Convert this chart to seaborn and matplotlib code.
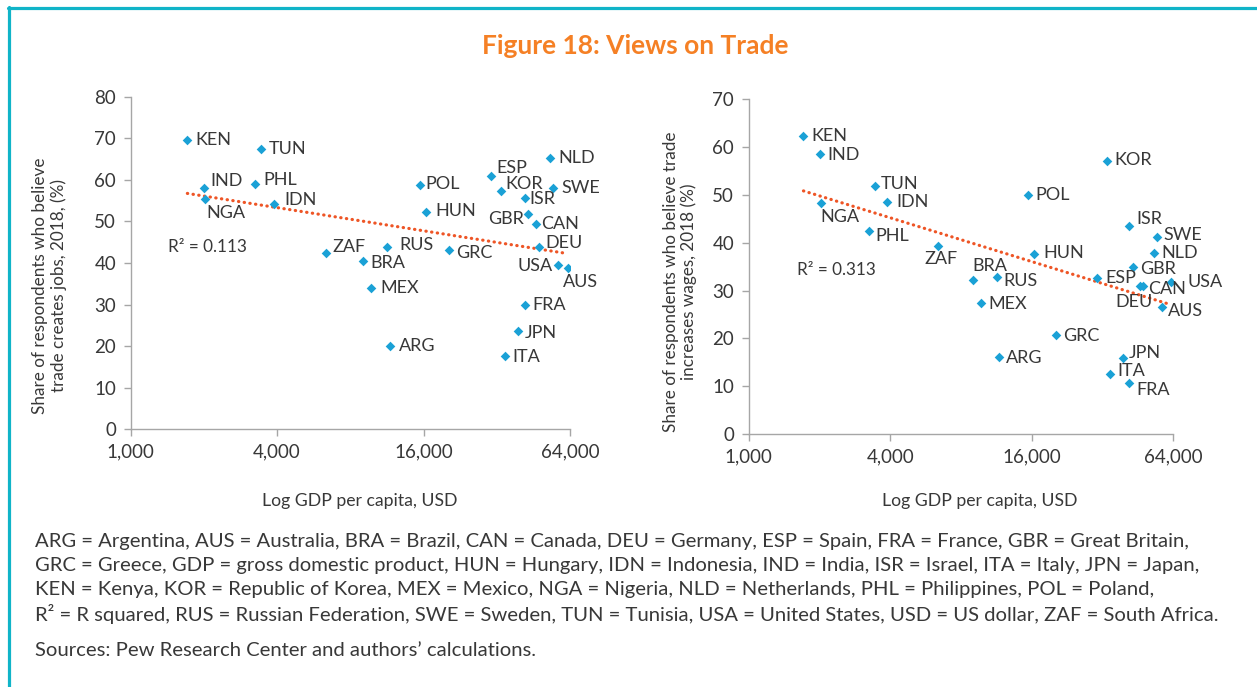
import numpy as np
import pandas as pd
import matplotlib
matplotlib.use("Agg")
import matplotlib.pyplot as plt
import seaborn as sns
from matplotlib.lines import Line2D
from matplotlib.ticker import FixedLocator, FixedFormatter, NullLocator

# ---------------- data ----------------
countries = ["KEN", "IND", "NGA", "TUN", "PHL", "IDN", "ZAF", "BRA", "MEX", "RUS",
             "ARG", "POL", "HUN", "GRC", "ESP", "KOR", "ITA", "JPN", "ISR", "FRA",
             "GBR", "CAN", "DEU", "NLD", "SWE", "AUS", "USA"]
gdp_per_capita = [1710, 2010, 2030, 3430, 3250, 3890, 6360, 8990, 9720, 11350,
                  11630, 15420, 16420, 20320, 30360, 33320, 34570, 39060, 41640, 41640,
                  42930, 46200, 47600, 52900, 54360, 57200, 62700]
share_jobs = [69.6, 58.0, 55.3, 67.4, 58.9, 54.3, 42.3, 40.6, 34.0, 43.9,
              20.0, 58.7, 52.3, 43.2, 61.0, 57.4, 17.6, 23.6, 55.6, 29.9,
              51.7, 49.4, 43.8, 65.3, 58.0, 39.5, 38.7]
share_wages = [62.3, 58.5, 48.4, 51.9, 42.5, 48.5, 39.4, 32.3, 27.5, 32.9,
               16.2, 50.0, 37.6, 20.8, 32.6, 57.0, 12.5, 15.9, 43.5, 10.6,
               34.9, 30.9, 30.9, 37.8, 41.3, 26.5, 31.7]
x_ticks = [1000, 4000, 16000, 64000]
x_tick_labels = ["1,000", "4,000", "16,000", "64,000"]
jobs_ticks = [0, 10, 20, 30, 40, 50, 60, 70, 80]
wages_ticks = [0, 10, 20, 30, 40, 50, 60, 70]
r2_jobs = "R² = 0.113"
r2_wages = "R² = 0.313"

title = "Figure 18: Views on Trade"
xlabel = "Log GDP per capita, USD"
ylabel_jobs = "Share of respondents who believe\ntrade creates jobs, 2018, (%)"
ylabel_wages = "Share of respondents who believe trade\nincreases wages, 2018 (%)"
notes = [
    "ARG = Argentina, AUS = Australia, BRA = Brazil, CAN = Canada, DEU = Germany, ESP = Spain, FRA = France, GBR = Great Britain,",
    "GRC = Greece, GDP = gross domestic product, HUN = Hungary, IDN = Indonesia, IND = India, ISR = Israel, ITA = Italy, JPN = Japan,",
    "KEN = Kenya, KOR = Republic of Korea, MEX = Mexico, NGA = Nigeria, NLD = Netherlands, PHL = Philippines, POL = Poland,",
    "R² = R squared, RUS = Russian Federation, SWE = Sweden, TUN = Tunisia, USA = United States, USD = US dollar, ZAF = South Africa.",
]
source = "Sources: Pew Research Center and authors’ calculations."

df = pd.DataFrame({"country": countries, "gdp": gdp_per_capita,
                   "jobs": share_jobs, "wages": share_wages})

# ---------------- label placement (pixels: dx right, dy down, ha) -------------
lab_jobs = {
    "KEN": (8, 0, "left"), "TUN": (8, 0, "left"), "IND": (6, -7, "left"),
    "NGA": (1, 14, "left"), "PHL": (8, -4, "left"), "IDN": (10, -4, "left"),
    "ZAF": (6, -6, "left"), "BRA": (8, 2, "left"), "MEX": (9, 0, "left"),
    "RUS": (12, -2, "left"), "ARG": (9, 0, "left"), "POL": (6, -1, "left"),
    "HUN": (9, -1, "left"), "GRC": (7, 3, "left"), "ESP": (5, -8, "left"),
    "KOR": (4, -7, "left"), "ISR": (5, 1, "left"), "GBR": (-4, 5, "right"),
    "CAN": (6, 0, "left"), "DEU": (7, -4, "left"), "NLD": (8, 0, "left"),
    "SWE": (9, 0, "left"), "USA": (-15, -2, "right"), "AUS": (5, 17, "left"),
    "FRA": (8, 0, "left"), "JPN": (7, 2, "left"), "ITA": (7, 1, "left"),
}
lab_wages = {
    "KEN": (8, 0, "left"), "IND": (7, 1, "left"), "TUN": (6, -2, "left"),
    "NGA": (-1, 14, "left"), "IDN": (9, 0, "left"), "PHL": (6, 5, "left"),
    "ZAF": (3, 13, "center"), "BRA": (-1, -14, "left"), "RUS": (7, 4, "left"),
    "MEX": (7, 1, "left"), "ARG": (7, 1, "left"), "POL": (7, 0, "left"),
    "HUN": (9, -1, "left"), "GRC": (7, 1, "left"), "ESP": (8, 0, "left"),
    "KOR": (8, -1, "left"), "ISR": (7, -7, "left"), "SWE": (7, -2, "left"),
    "NLD": (8, 0, "left"), "GBR": (8, 2, "left"), "CAN": (8, 3, "left"),
    "DEU": (10, 16, "right"), "USA": (16, 0, "left"), "AUS": (6, 4, "left"),
    "JPN": (6, -5, "left"), "ITA": (7, -3, "left"), "FRA": (7, 7, "left"),
}

# ---------------- style ----------------
sns.set_theme(style="ticks")
plt.rcParams["font.family"] = ["Lato", "DejaVu Sans"]
TXT = "#383838"
SPINE = "#a6a6a6"
MARK = "#1aa1d6"
TREND = "#ee5526"
TEAL = "#10b4c8"
ORANGE = "#f58025"

fig = plt.figure(figsize=(12.57, 6.87), dpi=100)
W, H = 1257, 687


def px_axes(l, t, r, b):
    return fig.add_axes([l / W, 1 - b / H, (r - l) / W, (b - t) / H])


ax1 = px_axes(130.7, 96.7, 570.0, 429.3)
ax2 = px_axes(748.7, 99.3, 1173.3, 434.0)


def draw(ax, ycol, yticks, labels, r2, r2pos, ylabel, ylab_xy, xlab_xy):
    sns.scatterplot(data=df, x="gdp", y=ycol, ax=ax, marker="D", s=24,
                    color=MARK, linewidth=0, zorder=3)
    sns.regplot(data=df, x="gdp", y=ycol, ax=ax, logx=True, ci=None,
                scatter=False, truncate=True,
                line_kws=dict(color=TREND, linewidth=2.3,
                              linestyle=(0, (0.1, 1.7)),
                              dash_capstyle="round"))
    ax.set_xscale("log", base=2)
    ax.set_xlim(1000, 64000)
    ax.set_ylim(yticks[0], yticks[-1])
    ax.xaxis.set_major_locator(FixedLocator(x_ticks))
    ax.xaxis.set_major_formatter(FixedFormatter(x_tick_labels))
    ax.xaxis.set_minor_locator(NullLocator())
    ax.set_yticks(yticks)
    ax.tick_params(axis="both", direction="out", length=5, width=1,
                   color=SPINE, labelcolor=TXT, labelsize=13.5)
    ax.tick_params(axis="x", pad=5)
    ax.tick_params(axis="y", pad=5.5)
    for s in ["top", "right"]:
        ax.spines[s].set_visible(False)
    for s in ["left", "bottom"]:
        ax.spines[s].set_color(SPINE)
        ax.spines[s].set_linewidth(1)
    for c, xv, yv in zip(df["country"], df["gdp"], df[ycol]):
        dx, dy, ha = labels[c]
        ax.annotate(c, (xv, yv), xytext=(dx, -dy), textcoords="offset pixels",
                    ha=ha, va="center", fontsize=13, color=TXT, zorder=4)
    ax.text(r2pos[0], r2pos[1], r2, transform=ax.transAxes, fontsize=12.3,
            color=TXT, ha="left", va="center")
    ax.set_xlabel(xlabel, fontsize=12.7, color=TXT)
    ax.xaxis.set_label_coords(*xlab_xy)
    ax.set_ylabel(ylabel, fontsize=12.3, color=TXT, va="center",
                  multialignment="center", linespacing=1.15)
    ax.yaxis.set_label_coords(*ylab_xy)


draw(ax1, "jobs", jobs_ticks, lab_jobs, r2_jobs,
     ((168 - 130.7) / 439.3, (429.3 - 247) / 332.6),
     ylabel_jobs, (-0.185, 0.431), (0.522, -0.1915))
draw(ax2, "wages", wages_ticks, lab_wages, r2_wages,
     ((797 - 748.7) / 424.6, (434 - 270) / 334.7),
     ylabel_wages, (-0.162, 0.454), (0.545, -0.176))

# title
fig.text(635 / W, 1 - 46 / H, title, ha="center", va="center",
         fontsize=19, fontweight="bold", color=ORANGE)

# notes
for i, line in enumerate(notes):
    fig.text(35 / W, 1 - (541 + 24.3 * i) / H, line, ha="left", va="center",
             fontsize=14.6, color=TXT)
fig.text(35 / W, 1 - 650 / H, source, ha="left", va="center",
         fontsize=14.6, color=TXT)

# frame
fig.add_artist(Line2D([7.5 / W, 1], [1 - 7.5 / H, 1 - 7.5 / H], color=TEAL,
                      linewidth=2.3, transform=fig.transFigure))
fig.add_artist(Line2D([9 / W, 9 / W], [0, 1 - 6.5 / H], color=TEAL,
                      linewidth=2.3, transform=fig.transFigure))

fig.savefig("out.png", dpi=100)
